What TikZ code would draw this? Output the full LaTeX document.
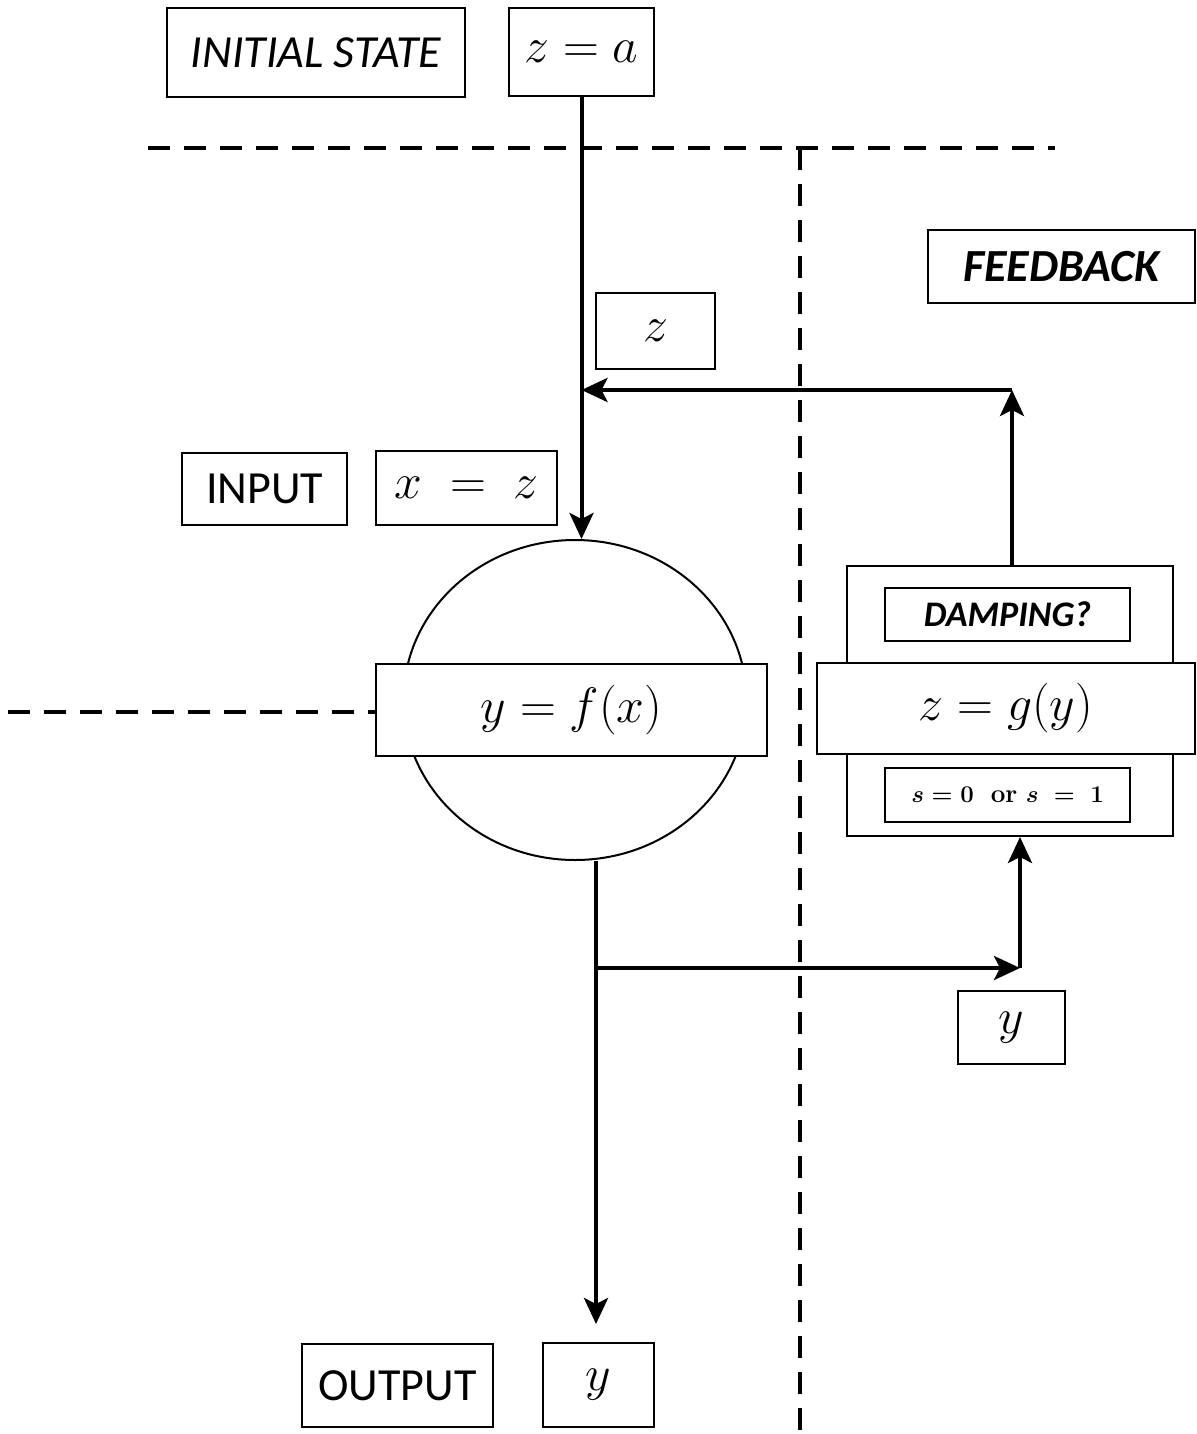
\documentclass[tikz,border=0pt]{standalone}
\usepackage{amsmath,amssymb}
\usepackage[dvipsnames]{xcolor}
\usepackage{fontspec}
\newfontfamily\calibri{Carlito}
\usepackage{tikz}
\usetikzlibrary{arrows.meta,shapes.geometric}

\begin{document}
\begin{tikzpicture}[x=0.5pt,y=-0.5pt,
    box/.style={draw,line width=1pt,fill=white,inner sep=0pt},
    word/.style={font=\calibri\fontsize{23}{27}\selectfont},
    mth/.style={font=\fontsize{23}{27}\selectfont},
    flow/.style={line width=2pt,-{Stealth[length=13pt,width=12pt,inset=3pt]}},
    sep/.style={line width=2pt,dash pattern=on 11pt off 7pt}]
  \useasboundingbox (0,0) rectangle (1197,1434);
  \node[box,word,minimum width=149pt,minimum height=44.5pt] (init) at (316,52.5) {\itshape INITIAL STATE};
  \node[box,mth,minimum width=72.5pt,minimum height=44pt] (za) at (581.5,52) {$z=a$};
  \node[box,word,minimum width=133.5pt,minimum height=36.5pt] (feed) at (1061.5,266.5) {\bfseries\itshape FEEDBACK};
  \node[box,mth,minimum width=59.5pt,minimum height=38pt] (zin) at (655.5,331) {$z$};
  \node[box,word,minimum width=82.5pt,minimum height=36pt] (inp) at (264.5,489) {INPUT};
  \node[box,mth,minimum width=90.5pt,minimum height=37pt] (xz) at (466.5,488) {$x\;=\;z$};
  \node[draw,line width=1pt,ellipse,inner sep=0pt,minimum width=171.5pt,minimum height=160pt] (fx) at (575,700) {};
  \node[box,mth,minimum width=195.5pt,minimum height=46pt] (fxbox) at (571.5,710) {$y=f(x)$};
  \node[box,minimum width=163pt,minimum height=135pt] (fb) at (1010,701) {};
  \node[box,font=\calibri\fontsize{18}{21}\selectfont,minimum width=122.5pt,minimum height=26.5pt] (damp) at (1007.5,614.5) {\bfseries\itshape DAMPING?};
  \node[box,mth,minimum width=189pt,minimum height=45.5pt] (gy) at (1006,708.5) {$z=g(y)$};
  \node[box,font=\fontsize{13}{15}\selectfont,minimum width=122.5pt,minimum height=27pt] (sw) at (1007.5,795) {$\boldsymbol{s=0}$\ \ \textbf{or}\ $\boldsymbol{s\;=\;1}$};
  \node[box,mth,minimum width=53.5pt,minimum height=36.5pt] (yfb) at (1011.5,1027.5) {$y$};
  \node[box,word,minimum width=95.5pt,minimum height=41.5pt] (outp) at (397.5,1385.5) {OUTPUT};
  \node[box,mth,minimum width=55.5pt,minimum height=42pt] (yout) at (598.5,1385) {$y$};
  \coordinate (up) at (1012,390);
  \coordinate (br) at (596,968);
  \coordinate (turn) at (1020,968);
  \draw[sep] (148,148) -- (1055,148);
  \draw[sep] (800,148) -- (800,1434);
  \draw[sep] (8,712) -- (fxbox.west |- 0,712);
  \draw[flow] (za.south) -- (za.south |- fx.north);
  \draw[flow] (fb.north -| up) -- (up);
  \draw[flow] (up) -- (za.south |- up);
  \draw[flow,shorten >=9pt] (fx.south -| br) -- (br |- yout.north);
  \draw[flow] (br) -- (turn);
  \draw[flow] (turn) -- (turn |- fb.south);
\end{tikzpicture}
\end{document}
